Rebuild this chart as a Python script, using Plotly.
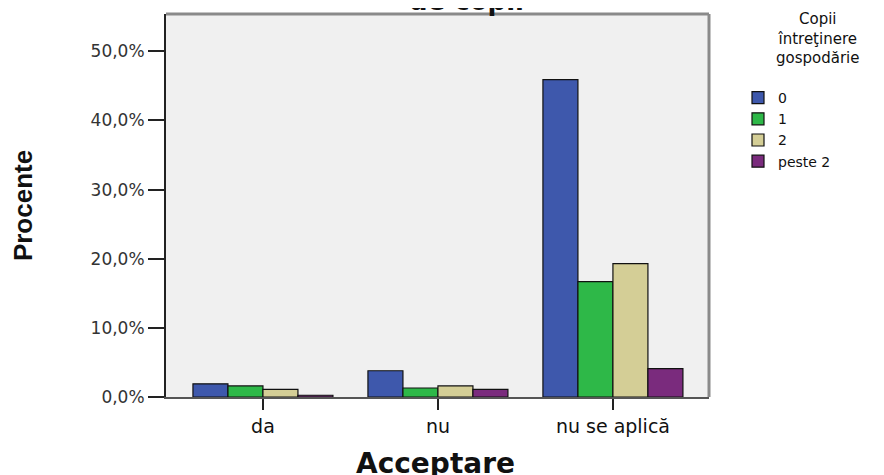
import plotly.graph_objects as go

categories = ["da", "nu", "nu se aplică"]
series_names = ["0", "1", "2", "peste 2"]
values_0 = [1.9, 3.8, 45.9]
values_1 = [1.6, 1.3, 16.7]
values_2 = [1.1, 1.6, 19.3]
values_peste2 = [0.25, 1.1, 4.1]
series_values = [values_0, values_1, values_2, values_peste2]
colors = ["#3E58AC", "#2EB848", "#D4CE96", "#7A2B7D"]

y_tick_vals = [0, 10, 20, 30, 40, 50]
y_tick_labels = ["0,0%", "10,0%", "20,0%", "30,0%", "40,0%", "50,0%"]

legend_title_lines = ["Copii", "întreţinere", "gospodărie"]
chart_title = "de copii"
x_title = "Acceptare"
y_title = "Procente"

# page has an 8px body margin at top/left; figure fills the rest of the window
OFF = 8
W, H = 884 - OFF, 475 - OFF
L, T = 166 - OFF, 14 - OFF
pw, ph = 543, 383
R = W - L - pw
B = H - T - ph


def px_x(page_x):
    return (page_x - OFF - L) / pw


def px_y(page_y):
    return (T + ph - (page_y - OFF)) / ph


fig = go.Figure()
for name, vals, col in zip(series_names, series_values, colors):
    fig.add_trace(go.Bar(
        x=categories, y=vals, name=name,
        marker=dict(color=col, line=dict(color="#111111", width=1.2)),
    ))

font_h = "DejaVu Sans"

fig.update_layout(
    width=W, height=H,
    margin=dict(l=L, r=R, t=T, b=B, autoexpand=False),
    paper_bgcolor="white",
    plot_bgcolor="#F0F0F0",
    barmode="group",
    bargap=0.2,
    bargroupgap=0,
    showlegend=True,
    legend=dict(
        x=px_x(738), xanchor="left", y=px_y(82), yanchor="top",
        font=dict(family=font_h, size=14, color="#111111"),
        bgcolor="rgba(0,0,0,0)",
        tracegroupgap=0,
    ),
    xaxis=dict(
        range=[-0.554, 2.549],
        automargin=False,
        showgrid=False, zeroline=False,
        ticks="outside", ticklen=11, tickwidth=2, tickcolor="#222222",
        showline=True, linecolor="#555555", linewidth=2,
        tickfont=dict(family=font_h, size=19, color="#111111"),
    ),
    yaxis=dict(
        range=[0, 55.4],
        automargin=False,
        tickvals=y_tick_vals, ticktext=y_tick_labels,
        showgrid=False, zeroline=False,
        ticks="outside", ticklen=16, tickwidth=2, tickcolor="#222222",
        showline=True, linecolor="#222222", linewidth=2,
        tickfont=dict(family=font_h, size=17, color="#333333"),
        title=dict(text=y_title, font=dict(family="Liberation Sans", size=26, color="#111111", weight="bold"), standoff=52),
    ),
)

# plot-area frame (top and right sides grey)
fig.add_shape(type="line", xref="paper", yref="paper", x0=0, x1=1, y0=1, y1=1,
              line=dict(color="#8a8a8a", width=3), layer="above")
fig.add_shape(type="line", xref="paper", yref="paper", x0=1, x1=1, y0=0, y1=1,
              line=dict(color="#8a8a8a", width=3), layer="above")

# x-axis title
fig.add_annotation(text=x_title, xref="paper", yref="paper",
                   x=px_x(435), y=px_y(463), xanchor="center", yanchor="middle",
                   showarrow=False, font=dict(family="DejaVu Sans", size=28, color="#111111", weight="bold"))

# partially visible chart title at top
fig.add_annotation(text=chart_title, xref="paper", yref="paper",
                   x=px_x(466), y=px_y(18), xanchor="center", yanchor="bottom",
                   showarrow=False, font=dict(family="DejaVu Sans", size=26, color="#111111", weight="bold"))

# legend title (three centred lines)
fig.add_annotation(text="<br>".join(legend_title_lines), xref="paper", yref="paper",
                   x=px_x(818), y=px_y(39), xanchor="center", yanchor="middle",
                   showarrow=False, align="center",
                   font=dict(family=font_h, size=15, color="#111111"))

fig.write_html("out.html")
